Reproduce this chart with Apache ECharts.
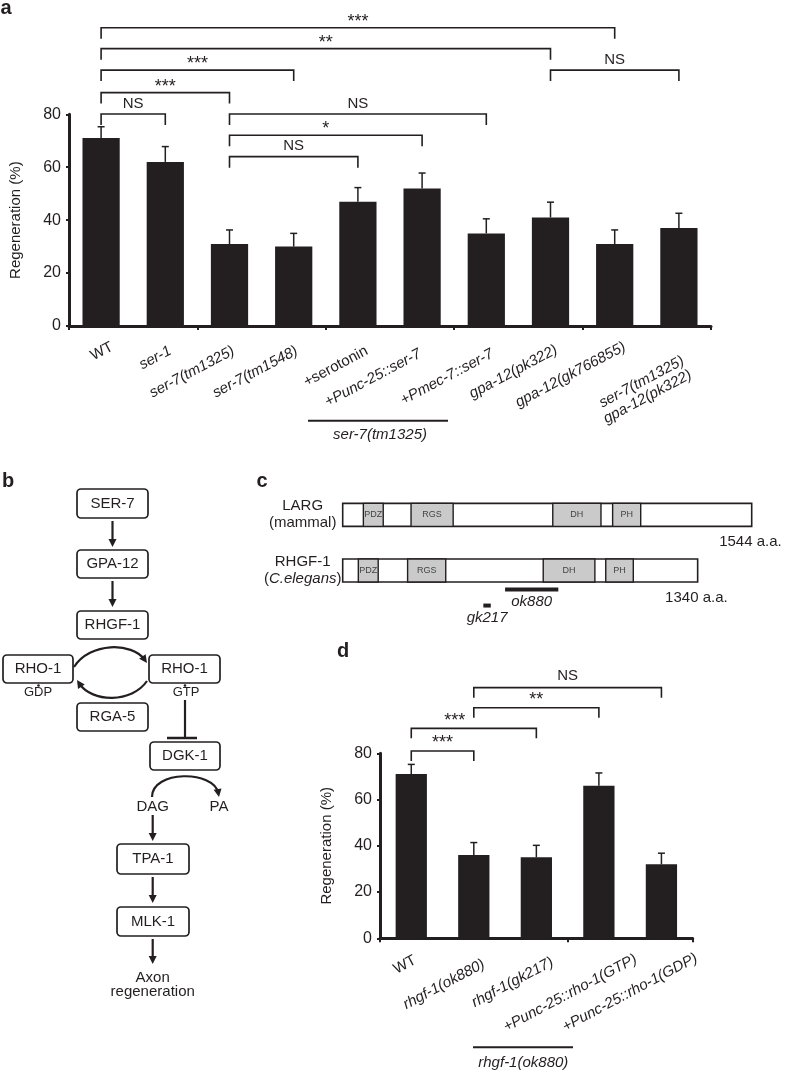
<!DOCTYPE html>
<html>
<head>
<meta charset="utf-8">
<script src="https://cdn.jsdelivr.net/npm/echarts@6/dist/echarts.min.js"></script>
<style>
html, body { margin: 0; padding: 0; background: #fff; }
#main { width: 786px; height: 1072px; }
</style>
</head>
<body>
<div id="main"></div>
<script>
// panel a - regeneration per strain
var catsA = ['WT', 'ser-1', 'ser-7(tm1325)', 'ser-7(tm1548)', '+serotonin', '+Punc-25::ser-7',
  '+Pmec-7::ser-7', 'gpa-12(pk322)', 'gpa-12(gk766855)', 'ser-7(tm1325)\ngpa-12(pk322)'];
var valsA = [71, 62, 31, 30, 47, 52, 35, 41, 31, 37];
var errA = [4.3, 5.8, 5.3, 5.0, 5.3, 5.8, 5.5, 5.8, 5.3, 5.6];
// [from, to, level (%), label]
var bracketsA = [
  [0, 1, 80.1, 'NS'],
  [0, 2, 88.2, '***'],
  [0, 3, 96.7, '***'],
  [0, 7, 104.8, '**'],
  [0, 8, 112.7, '***'],
  [7, 9, 96.7, 'NS'],
  [2, 6, 80.1, 'NS'],
  [2, 5, 72.1, '*'],
  [2, 4, 64.0, 'NS']
];

// panel c - domain structure (a.a.)
var proteinNames = ['LARG', 'RHGF-1'];
var proteinOrigin = ['mammal', 'C.elegans'];
var proteinLength = [1544, 1340];
var domainProtein = [0, 0, 0, 0, 1, 1, 1, 1];
var domainName = ['PDZ', 'RGS', 'DH', 'PH', 'PDZ', 'RGS', 'DH', 'PH'];
var domainStart = [78, 258, 793, 1019, 59, 245, 757, 993];
var domainEnd = [153, 417, 975, 1125, 134, 389, 952, 1097];
var alleleName = ['ok880', 'gk217'];
var alleleStart = [613, 531];
var alleleEnd = [814, 559];

// panel d - rhgf-1 mutants
var catsD = ['WT', 'rhgf-1(ok880)', 'rhgf-1(gk217)', '+Punc-25::rho-1(GTP)', '+Punc-25::rho-1(GDP)'];
var valsD = [71, 36, 35, 66, 32];
var errD = [4.2, 5.4, 5.2, 5.5, 4.8];
var bracketsD = [
  [0, 1, 81.0, '***'],
  [0, 2, 90.8, '***'],
  [1, 3, 99.7, '**'],
  [1, 4, 108.4, 'NS']
];

var INK = '#231f20';
var FONT = '"Liberation Sans", Arial, Helvetica, sans-serif';
var upright = ['WT', '+serotonin'];
var ROT = 28 * Math.PI / 180;

// where each rotated tick label ends, relative to the tick centre on the axis (px)
var labelOffA = [[11, 20], [5, 24], [4, 24], [3, 24], [9, 24], [-2, 27], [6, 27], [6, 23], [10, 20], [8, 41]];
var labelOffD = [[4, 21], [10, 25], [16, 23], [37, 20], [35, 19]];

var chart = echarts.init(document.getElementById('main'));

function tickLabelRenderer(cats, offs) {
  return function (params, api) {
    var i = params.dataIndex;
    var p = api.coord([i, 0]);
    return {
      type: 'text',
      x: p[0] + offs[i][0],
      y: p[1] + offs[i][1],
      rotation: ROT,
      style: {
        text: cats[i], align: 'right', verticalAlign: 'middle',
        fontFamily: FONT, fontSize: 15, lineHeight: 16, fill: INK,
        fontStyle: upright.indexOf(cats[i]) >= 0 ? 'normal' : 'italic'
      }
    };
  };
}

function errorItem(params, api) {
  var i = api.value(0);
  var base = api.coord([i, api.value(1)]);
  var top = api.coord([i, api.value(2)]);
  var cap = 3.5;
  return {
    type: 'group',
    children: [
      { type: 'line', shape: { x1: base[0], y1: base[1], x2: top[0], y2: top[1] }, style: { stroke: INK, lineWidth: 1.5 } },
      { type: 'line', shape: { x1: top[0] - cap, y1: top[1], x2: top[0] + cap, y2: top[1] }, style: { stroke: INK, lineWidth: 1.5 } }
    ]
  };
}

function bracketRenderer(list, drop, gap, shifts) {
  return function (params, api) {
    var b = list[params.dataIndex];
    var p1 = api.coord([b[0], b[2]]);
    var p2 = api.coord([b[1], b[2]]);
    var star = b[3].charAt(0) === '*';
    var shift = shifts[params.dataIndex] || 0;
    return {
      type: 'group',
      children: [
        {
          type: 'polyline',
          shape: { points: [[p1[0], p1[1] + drop], [p1[0], p1[1]], [p2[0], p2[1]], [p2[0], p2[1] + drop]] },
          style: { stroke: INK, lineWidth: 1.6, fill: 'none' }
        },
        {
          type: 'text',
          x: (p1[0] + p2[0]) / 2 + shift,
          y: p1[1] - gap + (star ? 4.4 : 0),
          style: { text: b[3], align: 'center', verticalAlign: 'middle', fontFamily: FONT, fontSize: star ? 18 : 15, fill: INK }
        }
      ]
    };
  };
}

function proteinItem(params, api) {
  var i = params.dataIndex;
  var s = api.coord([0, i]);
  var e = api.coord([proteinLength[i], i]);
  var h = 23;
  return {
    type: 'group',
    children: [
      { type: 'rect', shape: { x: s[0], y: s[1] - h / 2, width: e[0] - s[0], height: h }, style: { fill: '#fff', stroke: INK, lineWidth: 1.6 } },
      { type: 'text', x: e[0] + 30, y: s[1] + 27, style: { text: proteinLength[i] + ' a.a.', align: 'right', verticalAlign: 'middle', fontFamily: FONT, fontSize: 15, fill: INK } }
    ]
  };
}

function domainItem(params, api) {
  var k = params.dataIndex;
  var s = api.coord([domainStart[k], domainProtein[k]]);
  var e = api.coord([domainEnd[k], domainProtein[k]]);
  var h = 23;
  return {
    type: 'group',
    children: [
      { type: 'rect', shape: { x: s[0], y: s[1] - h / 2, width: e[0] - s[0], height: h }, style: { fill: '#cacaca', stroke: INK, lineWidth: 1.4 } },
      { type: 'text', x: (s[0] + e[0]) / 2, y: s[1], style: { text: domainName[k], align: 'center', verticalAlign: 'middle', fontFamily: FONT, fontSize: 9, fill: '#444' } }
    ]
  };
}

var alleleDrop = [19, 35];
function alleleItem(params, api) {
  var k = params.dataIndex;
  var s = api.coord([alleleStart[k], 1]);
  var e = api.coord([alleleEnd[k], 1]);
  var y = s[1] + alleleDrop[k];
  return {
    type: 'group',
    children: [
      { type: 'rect', shape: { x: s[0], y: y - 2, width: e[0] - s[0], height: 4 }, style: { fill: INK } },
      { type: 'text', x: (s[0] + e[0]) / 2, y: y + 12, style: { text: alleleName[k], align: 'center', verticalAlign: 'middle', fontFamily: FONT, fontStyle: 'italic', fontSize: 15, fill: INK } }
    ]
  };
}

// diagram helpers (panel b)
function txt(x, y, s, size, extra) {
  var st = { text: s, align: 'center', verticalAlign: 'middle', fontFamily: FONT, fontSize: size || 15, fill: INK };
  if (extra) for (var k in extra) st[k] = extra[k];
  return { type: 'text', x: x, y: y, style: st };
}
function box(x, y, w, h, label) {
  return [
    { type: 'rect', shape: { x: x, y: y, width: w, height: h, r: 4 }, style: { fill: '#fff', stroke: INK, lineWidth: 1.7 } },
    txt(x + w / 2, y + h / 2, label, 15)
  ];
}
function head(tx, ty, ux, uy) {
  var L = 8, W = 4;
  var bx = tx - ux * L, by = ty - uy * L;
  return { type: 'polygon', shape: { points: [[tx, ty], [bx - uy * W, by + ux * W], [bx + uy * W, by - ux * W]] }, style: { fill: INK } };
}
function downArrow(x, y1, y2) {
  return [
    { type: 'line', shape: { x1: x, y1: y1, x2: x, y2: y2 - 5 }, style: { stroke: INK, lineWidth: 2.2 } },
    head(x, y2, 0, 1)
  ];
}
function curveArrow(x1, y1, c1x, c1y, c2x, c2y, x2, y2) {
  var dx = x2 - c2x, dy = y2 - c2y, len = Math.sqrt(dx * dx + dy * dy);
  return [
    { type: 'bezierCurve', shape: { x1: x1, y1: y1, cpx1: c1x, cpy1: c1y, cpx2: c2x, cpy2: c2y, x2: x2 - dx / len * 4, y2: y2 - dy / len * 4 }, style: { stroke: INK, lineWidth: 2.2, fill: 'none' } },
    head(x2, y2, dx / len, dy / len)
  ];
}

var diagram = [].concat(
  box(77, 489, 71, 29, 'SER-7'),
  downArrow(112.5, 521, 547),
  box(77, 550, 71, 28, 'GPA-12'),
  downArrow(112.5, 581, 607),
  box(77, 611, 71, 28, 'RHGF-1'),
  box(3, 655, 70, 28, 'RHO-1'),
  box(149, 655, 71, 28, 'RHO-1'),
  curveArrow(74, 667, 90, 642, 132, 642, 147, 663),
  curveArrow(147, 681, 132, 703, 92, 703, 77, 680),
  [txt(38, 692.5, 'GDP', 13), txt(186, 692.5, 'GTP', 13),
   { type: 'circle', shape: { cx: 38.5, cy: 685.5, r: 1.3 }, style: { fill: INK } },
   { type: 'circle', shape: { cx: 185, cy: 685.5, r: 1.3 }, style: { fill: INK } }],
  box(77, 703, 71, 28, 'RGA-5'),
  [{ type: 'line', shape: { x1: 185, y1: 700, x2: 185, y2: 738 }, style: { stroke: INK, lineWidth: 2.2 } },
   { type: 'line', shape: { x1: 167, y1: 738, x2: 197, y2: 738 }, style: { stroke: INK, lineWidth: 2.5 } }],
  box(150, 742, 70, 28, 'DGK-1'),
  curveArrow(152, 797, 152, 770, 214, 770, 219, 797),
  [txt(152.7, 806.7, 'DAG'), txt(219, 806.7, 'PA')],
  downArrow(152.7, 815, 841),
  box(117, 844, 72, 30, 'TPA-1'),
  downArrow(152.7, 877, 903),
  box(117, 907, 72, 29, 'MLK-1'),
  downArrow(152.7, 939, 964),
  [txt(152.7, 978.3, 'Axon'), txt(152.7, 991.7, 'regeneration')]
);

var labels = [
  txt(6, 8, 'a', 20, { fontWeight: 'bold' }),
  txt(8, 481, 'b', 20, { fontWeight: 'bold' }),
  txt(262, 481, 'c', 20, { fontWeight: 'bold' }),
  txt(343, 651, 'd', 20, { fontWeight: 'bold' }),
  { type: 'line', shape: { x1: 308, y1: 420.7, x2: 448, y2: 420.7 }, style: { stroke: INK, lineWidth: 2 } },
  txt(380, 435, 'ser-7(tm1325)', 15, { fontStyle: 'italic' }),
  { type: 'line', shape: { x1: 473, y1: 1047.3, x2: 573, y2: 1047.3 }, style: { stroke: INK, lineWidth: 2 } },
  txt(523.3, 1063.3, 'rhgf-1(ok880)', 15, { fontStyle: 'italic' })
];

function valueAxis(gridIndex) {
  return {
    gridIndex: gridIndex, type: 'value', min: 0, max: 80, interval: 20,
    axisLine: { show: true, lineStyle: { color: INK, width: 3 } },
    axisTick: { show: true, length: 3, lineStyle: { color: INK, width: 2 } },
    splitLine: { show: false },
    axisLabel: { fontSize: 16, color: INK, margin: 8, fontFamily: FONT },
    name: 'Regeneration (%)', nameLocation: 'middle', nameGap: 46,
    nameTextStyle: { fontSize: 15, color: INK, fontFamily: FONT }
  };
}
function catAxis(gridIndex, cats) {
  return {
    gridIndex: gridIndex, type: 'category', data: cats,
    axisLine: { lineStyle: { color: INK, width: 3 } },
    axisTick: { show: true, length: 4, lineStyle: { color: INK, width: 2 } },
    axisLabel: { show: false }
  };
}

var option = {
  animation: false,
  backgroundColor: '#fff',
  textStyle: { fontFamily: FONT },
  grid: [
    { left: 68.5, top: 114.3, width: 642.5, height: 211.7 },
    { left: 342.7, top: 487, width: 409, height: 111.4 },
    { left: 380, top: 753.3, width: 312.7, height: 185 }
  ],
  xAxis: [
    catAxis(0, catsA),
    { gridIndex: 1, type: 'value', min: 0, max: 1544, show: false },
    catAxis(2, catsD)
  ],
  yAxis: [
    valueAxis(0),
    {
      gridIndex: 1, type: 'category', inverse: true, data: proteinNames,
      axisLine: { show: false }, axisTick: { show: false }, splitLine: { show: false },
      axisLabel: {
        align: 'center', margin: 40,
        formatter: function (v, i) {
          var org = i === 1 ? '{n|(}{i|' + proteinOrigin[i] + '}{n|)}' : '{n|(' + proteinOrigin[i] + ')}';
          return '{n|' + v + '}\n' + org;
        },
        rich: {
          n: { fontSize: 15, fontFamily: FONT, color: INK, lineHeight: 17 },
          i: { fontSize: 15, fontFamily: FONT, color: INK, lineHeight: 17, fontStyle: 'italic' }
        }
      }
    },
    valueAxis(2)
  ],
  series: [
    { type: 'bar', xAxisIndex: 0, yAxisIndex: 0, data: valsA, barWidth: '58%', itemStyle: { color: INK } },
    {
      type: 'custom', xAxisIndex: 0, yAxisIndex: 0, renderItem: errorItem, z: 3,
      data: valsA.map(function (v, i) { return [i, v, v + errA[i]]; })
    },
    {
      type: 'custom', xAxisIndex: 0, yAxisIndex: 0, z: 3,
      renderItem: bracketRenderer(bracketsA, 11, 10.3, {}),
      data: bracketsA.map(function (b) { return [b[0], b[2]]; })
    },
    {
      type: 'custom', xAxisIndex: 0, yAxisIndex: 0, z: 3,
      renderItem: tickLabelRenderer(catsA, labelOffA),
      data: catsA.map(function (c, i) { return [i, 0]; })
    },
    {
      type: 'custom', xAxisIndex: 1, yAxisIndex: 1, renderItem: proteinItem,
      encode: { x: [0, 1], y: 2 },
      data: proteinLength.map(function (l, i) { return [0, l, i]; })
    },
    {
      type: 'custom', xAxisIndex: 1, yAxisIndex: 1, renderItem: domainItem, z: 3,
      encode: { x: [0, 1], y: 2 },
      data: domainStart.map(function (s, k) { return [s, domainEnd[k], domainProtein[k]]; })
    },
    {
      type: 'custom', xAxisIndex: 1, yAxisIndex: 1, renderItem: alleleItem,
      encode: { x: [0, 1], y: 2 },
      data: alleleStart.map(function (s, k) { return [s, alleleEnd[k], 1]; })
    },
    { type: 'bar', xAxisIndex: 2, yAxisIndex: 2, data: valsD, barWidth: '50%', itemStyle: { color: INK } },
    {
      type: 'custom', xAxisIndex: 2, yAxisIndex: 2, renderItem: errorItem, z: 3,
      data: valsD.map(function (v, i) { return [i, v, v + errD[i]]; })
    },
    {
      type: 'custom', xAxisIndex: 2, yAxisIndex: 2, z: 3,
      renderItem: bracketRenderer(bracketsD, 10, 12, { 1: -19 }),
      data: bracketsD.map(function (b) { return [b[0], b[2]]; })
    },
    {
      type: 'custom', xAxisIndex: 2, yAxisIndex: 2, z: 3,
      renderItem: tickLabelRenderer(catsD, labelOffD),
      data: catsD.map(function (c, i) { return [i, 0]; })
    }
  ],
  graphic: diagram.concat(labels)
};

chart.setOption(option);
</script>
</body>
</html>
